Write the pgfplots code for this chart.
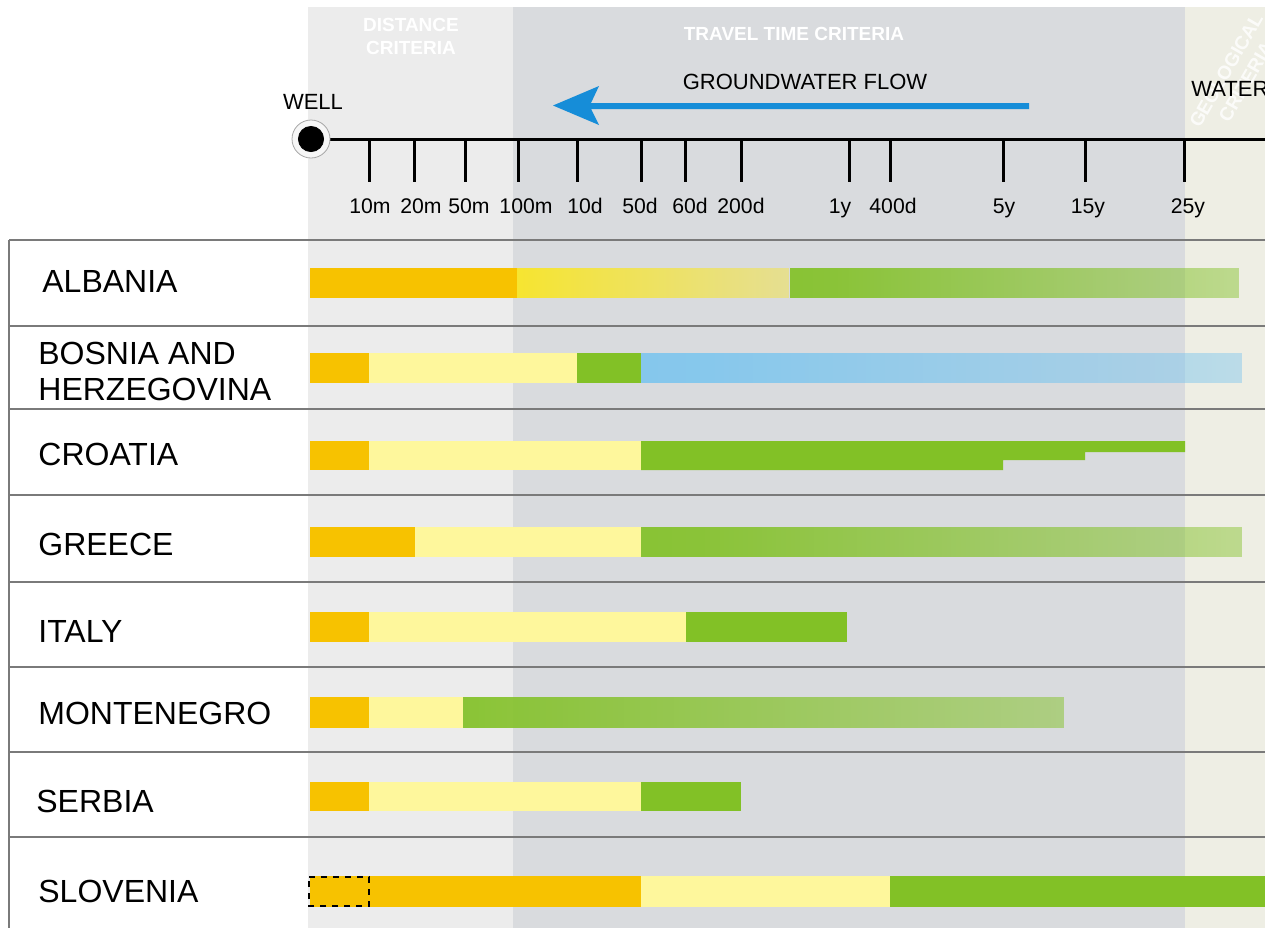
\documentclass[border=0pt]{standalone}
\usepackage{fontspec}
\setmainfont{Liberation Sans}
\usepackage{pgfplots}
\pgfplotsset{compat=1.18}
\usetikzlibrary{fadings}
\definecolor{bgA}{HTML}{ECECEC}
\definecolor{bgB}{HTML}{D9DBDE}
\definecolor{bgC}{HTML}{EEEEE4}
\definecolor{cOr}{HTML}{F7C200}
\definecolor{cYl}{HTML}{FEF79C}
\definecolor{cYb}{HTML}{FFE800}
\definecolor{cGr}{HTML}{82C126}
\definecolor{cBl}{HTML}{7EC6EE}
\definecolor{cArr}{HTML}{168DD8}
\definecolor{cLine}{HTML}{7A7A7A}
\pgfdeclarehorizontalshading{shY}{100bp}{color(0bp)=(white); color(100bp)=(black!88)}
\pgfdeclarefading{fadeY}{\pgfuseshading{shY}}
\pgfdeclarehorizontalshading{shG}{100bp}{color(0bp)=(white); color(30bp)=(black!10); color(100bp)=(black!80)}
\pgfdeclarefading{fadeG}{\pgfuseshading{shG}}
\pgfdeclarehorizontalshading{shM}{100bp}{color(0bp)=(white); color(25bp)=(black!8); color(100bp)=(black!72)}
\pgfdeclarefading{fadeM}{\pgfuseshading{shM}}
\newcommand{\seg}[5]{\addplot[draw=none,#5] coordinates {(#1,#3) (#2,#3) (#2,#4) (#1,#4)} -- cycle;}
\newcommand{\hl}[1]{\addplot[cLine, line width=1.2pt] coordinates {(9,#1) (1265,#1)};}
\newcommand{\tk}[3]{\addplot[black, line width=1.5pt] coordinates {(#1,139) (#1,182)};
  \node[font=\fontsize{10.6}{13}\selectfont, anchor=base, inner sep=0pt] at (axis cs:#2,213) {#3};}
\newcommand{\cty}[3]{\node[font=\fontsize{16}{18}\selectfont, anchor=base west, inner sep=0pt] at (axis cs:#1,#2) {#3};}
\begin{document}
\begin{tikzpicture}
\path[use as bounding box] (0,0) rectangle (632.5pt,464pt);
\begin{axis}[at={(316.25pt,232pt)}, anchor=center, scale only axis, width=632.5pt, height=464pt,
  xmin=0, xmax=1265, ymin=0, ymax=928, y dir=reverse, axis lines=none, clip=false]
% backgrounds
\seg{308}{513}{7}{928}{fill=bgA}
\seg{513}{1185}{7}{928}{fill=bgB}
\seg{1185}{1265}{7}{928}{fill=bgC}
% table lines
\hl{240}\hl{326}\hl{409}\hl{495}\hl{582}\hl{667}\hl{752}\hl{837}
\addplot[cLine, line width=1.2pt] coordinates {(9,240) (9,928)};
% header texts
\node[font=\bfseries\fontsize{9.5}{11.5}\selectfont, text=white, align=center] at (axis cs:411,36.5) {DISTANCE\\CRITERIA};
\node[font=\bfseries\fontsize{9.5}{11.5}\selectfont, text=white] at (axis cs:794,33.5) {TRAVEL TIME CRITERIA};
\node[font=\bfseries\fontsize{9.5}{11.5}\selectfont, text=white, text opacity=0.8, align=center, rotate=60] at (axis cs:1236,76) {GEOLOGICAL\\CRITERIA};
\node[font=\fontsize{11}{13}\selectfont] at (axis cs:805,82) {GROUNDWATER FLOW};
\node[font=\fontsize{11}{13}\selectfont] at (axis cs:313,102) {WELL};
\node[font=\fontsize{11}{13}\selectfont, anchor=west, inner sep=0pt] at (axis cs:1191,89) {WATER};
% arrow
\addplot[fill=cArr, draw=none] coordinates {(553,105.5) (599,86) (591,103) (1029,103) (1029,109) (591,109) (599,125)} -- cycle;
% axis line and ticks
\addplot[black, line width=1.5pt] coordinates {(311,139) (1265,139)};
\tk{369}{370}{10m}\tk{414}{421}{20m}\tk{465}{469}{50m}\tk{518}{526}{100m}\tk{577}{585}{10d}\tk{641}{640}{50d}
\tk{685}{690}{60d}\tk{741}{741}{200d}\tk{849}{840}{1y}\tk{890}{893}{400d}\tk{1003}{1004}{5y}\tk{1085}{1088}{15y}\tk{1184}{1188}{25y}
% well
\addplot[only marks, mark=*, mark size=9.5pt, mark options={draw=gray!70, fill=white!55!bgA, line width=0.4pt}] coordinates {(311,139)};
\addplot[only marks, mark=*, mark size=6.3pt, black] coordinates {(311,139)};
% countries
\cty{42}{292}{ALBANIA}
\node[font=\fontsize{16}{18}\selectfont, anchor=base west, align=left, inner sep=0pt] at (axis cs:38,400) {BOSNIA AND\\HERZEGOVINA};
\cty{38}{465}{CROATIA}
\cty{38}{555}{GREECE}
\cty{38}{642}{ITALY}
\cty{38}{724}{MONTENEGRO}
\cty{36}{812}{SERBIA}
\cty{38}{902}{SLOVENIA}
% Albania
\seg{310}{517}{268}{298}{fill=cOr}
\seg{517}{789}{268}{298}{fill=cYb, path fading=fadeY}
\seg{790}{1239}{268}{298}{fill=cGr, path fading=fadeG}
% Bosnia
\seg{310}{369}{353}{383}{fill=cOr}
\seg{369}{577}{353}{383}{fill=cYl}
\seg{577}{641}{353}{383}{fill=cGr}
\seg{641}{1242}{353}{383}{fill=cBl, path fading=fadeG}
% Croatia
\seg{310}{369}{441}{470}{fill=cOr}
\seg{369}{641}{441}{470}{fill=cYl}
\addplot[fill=cGr, draw=none] coordinates {(641,441) (1185,441) (1185,452) (1085,452) (1085,460) (1003,460) (1003,470) (641,470)} -- cycle;
% Greece
\seg{310}{415}{527}{557}{fill=cOr}
\seg{415}{641}{527}{557}{fill=cYl}
\seg{641}{1242}{527}{557}{fill=cGr, path fading=fadeG}
% Italy
\seg{310}{369}{612}{642}{fill=cOr}
\seg{369}{686}{612}{642}{fill=cYl}
\seg{686}{847}{612}{642}{fill=cGr}
% Montenegro
\seg{310}{369}{697}{728}{fill=cOr}
\seg{369}{463}{697}{728}{fill=cYl}
\seg{463}{1064}{697}{728}{fill=cGr, path fading=fadeM}
% Serbia
\seg{310}{369}{782}{811}{fill=cOr}
\seg{369}{641}{782}{811}{fill=cYl}
\seg{641}{741}{782}{811}{fill=cGr}
% Slovenia
\seg{310}{641}{876}{907}{fill=cOr}
\seg{641}{890}{876}{907}{fill=cYl}
\seg{890}{1265}{876}{907}{fill=cGr}
\addplot[draw=black, line width=1pt, dash pattern=on 3pt off 3pt] coordinates {(309,877) (369,877) (369,906) (309,906)} -- cycle;
\end{axis}
\end{tikzpicture}
\end{document}
